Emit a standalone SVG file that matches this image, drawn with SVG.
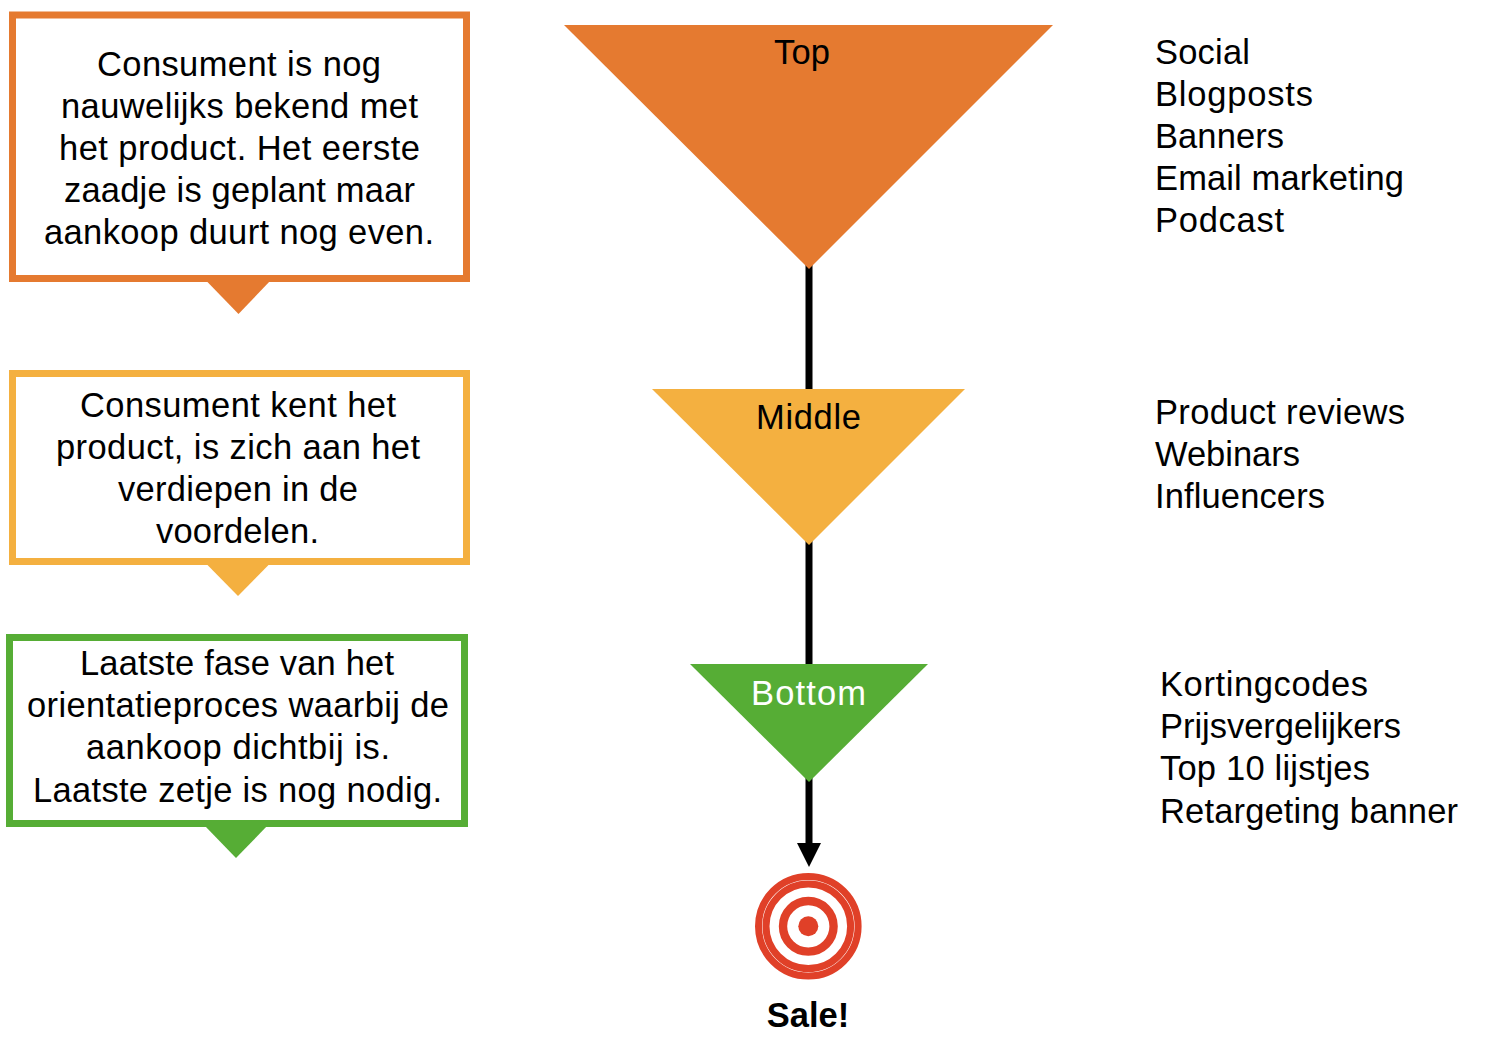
<svg xmlns="http://www.w3.org/2000/svg" width="1512" height="1054" viewBox="0 0 1512 1054">
<style>
text{font-family:"Liberation Sans",Arial,sans-serif;font-size:34.5px;fill:#000}
.c{text-anchor:middle}
.box{fill:#fff;stroke-width:7}
.o{fill:#e57a30}.os{stroke:#e57a30}
.y{fill:#f4b040}.ys{stroke:#f4b040}
.g{fill:#56ad35}.gs{stroke:#56ad35}
.ring{fill:none;stroke:#e04028}
</style>
<defs><marker id="arrow" markerUnits="userSpaceOnUse" markerWidth="26" markerHeight="26" refX="2" refY="12" orient="auto"><path d="M0 0L24 12L0 24Z" fill="#000"/></marker></defs>
<rect width="1512" height="1054" fill="#fff"/>
<g id="connectors" stroke="#000" stroke-width="7" fill="none">
<path d="M809 262V392"/>
<path d="M809 540V667"/>
<path d="M809 776V845" marker-end="url(#arrow)"/>
</g>
<g id="box-top">
<path class="o" d="M205.500 280H271L238.500 314Z"/>
<rect class="box os" x="12.500" y="15" width="454" height="263.500"/>
<text class="c" x="239" y="76" textLength="284">Consument is nog</text>
<text class="c" x="239.500" y="118" textLength="357">nauwelijks bekend met</text>
<text class="c" x="239.500" y="160" textLength="361">het product. Het eerste</text>
<text class="c" x="239.500" y="202" textLength="351">zaadje is geplant maar</text>
<text class="c" x="239" y="244" textLength="390">aankoop duurt nog even.</text>
</g>
<g id="box-middle">
<path class="y" d="M205.500 563H270.500L238 596Z"/>
<rect class="box ys" x="12.500" y="373.500" width="454" height="188"/>
<text class="c" x="238" y="417" textLength="316">Consument kent het</text>
<text class="c" x="238" y="459" textLength="364">product, is zich aan het</text>
<text class="c" x="238" y="501" textLength="240">verdiepen in de</text>
<text class="c" x="237.500" y="543" textLength="163">voordelen.</text>
</g>
<g id="box-bottom">
<path class="g" d="M204 825H268L236 858Z"/>
<rect class="box gs" x="9.500" y="637.500" width="455" height="186"/>
<text class="c" x="237" y="675" textLength="314">Laatste fase van het</text>
<text class="c" x="238" y="717" textLength="422">orientatieproces waarbij de</text>
<text class="c" x="238" y="759" textLength="304">aankoop dichtbij is.</text>
<text class="c" x="237.500" y="802" textLength="409">Laatste zetje is nog nodig.</text>
</g>
<g id="funnel-top">
<path class="o" d="M564 25H1053L809 269Z"/>
<text class="c" x="802" y="64" textLength="56">Top</text>
</g>
<g id="funnel-middle">
<path class="y" d="M652 389H965L809 545Z"/>
<text class="c" x="808.500" y="429" textLength="105">Middle</text>
</g>
<g id="funnel-bottom">
<path class="g" d="M690 664H928L809 782Z"/>
<text class="c" x="808.500" y="705" textLength="115" style="fill:#fff">Bottom</text>
</g>
<g id="target">
<circle class="ring" cx="808.300" cy="926.300" r="49.800" stroke-width="7"/>
<circle class="ring" cx="808.300" cy="926.300" r="42.300" stroke-width="7"/>
<circle class="ring" cx="808.300" cy="926.300" r="25.300" stroke-width="8.400"/>
<circle cx="808.300" cy="926.300" r="10" fill="#e04028"/>
<text class="c" x="808" y="1027" style="font-weight:700">Sale!</text>
</g>
<g id="list-top">
<text x="1155" y="64" textLength="95">Social</text>
<text x="1155" y="106" textLength="158">Blogposts</text>
<text x="1155" y="148" textLength="129">Banners</text>
<text x="1155" y="190" textLength="249">Email marketing</text>
<text x="1155" y="232" textLength="129">Podcast</text>
</g>
<g id="list-middle">
<text x="1155" y="424" textLength="250">Product reviews</text>
<text x="1155" y="466" textLength="145">Webinars</text>
<text x="1155" y="508" textLength="170">Influencers</text>
</g>
<g id="list-bottom">
<text x="1160" y="696" textLength="208">Kortingcodes</text>
<text x="1160" y="738" textLength="241">Prijsvergelijkers</text>
<text x="1160" y="780" textLength="210">Top 10 lijstjes</text>
<text x="1160" y="823" textLength="298">Retargeting banner</text>
</g>
</svg>
